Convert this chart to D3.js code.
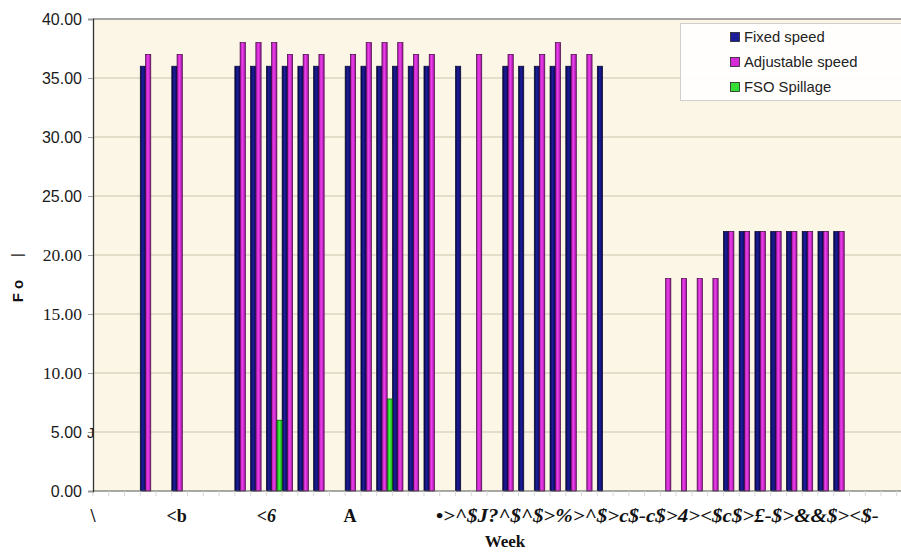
<!DOCTYPE html>
<html>
<head>
<meta charset="utf-8">
<script src="https://cdn.jsdelivr.net/npm/d3@7"></script>
<style>
  html, body { margin: 0; padding: 0; background: #fff; }
  svg { display: block; }
</style>
</head>
<body>
<div id="chart"></div>
<script>
// weeks 1..52
const weeks = [1,2,3,4,5,6,7,8,9,10,11,12,13,14,15,16,17,18,19,20,21,22,23,24,25,26,
  27,28,29,30,31,32,33,34,35,36,37,38,39,40,41,42,43,44,45,46,47,48,49,50,51,52];

const fixedSpeed = [
  null,null,null,36,null,36,null,null,null,36,
  36,36,36,36,36,null,36,36,36,36,
  36,36,null,36,null,null,36,36,36,36,
  36,null,36,null,null,null,null,null,null,null,
  22,22,22,22,22,22,22,22,null,null,
  null,null];

const adjustableSpeed = [
  null,null,null,37,null,37,null,null,null,38,
  38,38,37,37,37,null,37,38,38,38,
  37,37,null,null,37,null,37,null,37,38,
  37,37,null,null,null,null,18,18,18,18,
  22,22,22,22,22,22,22,22,null,null,
  null,null];

const fsoSpillage = [
  null,null,null,null,null,null,null,null,null,null,
  null,6,null,null,null,null,null,null,7.8,null,
  null,null,null,null,null,null,null,null,null,null,
  null,null,null,null,null,null,null,null,null,null,
  null,null,null,null,null,null,null,null,null,null,
  null,null];

const seriesNames = ["Fixed speed", "Adjustable speed", "FSO Spillage"];
const yTicks = [0, 5, 10, 15, 20, 25, 30, 35, 40];
const serifTicks = [10, 15, 20];

// garbled week labels as they appear, with position in week units
const weekLabels = [
  { text: "\\", at: 0.0, italic: false },
  { text: "<b", at: 5.3, italic: false },
  { text: "<6", at: 11.0, italic: true },
  { text: "A", at: 16.3, italic: false }
];
const longLabel = "\u2022>^$J?^$^$>%>^$>c$-c$>4><$c$>\u00a3-$>&&$><$-";
const longLabelAt = 21.75;

const width = 901, height = 552;
const margin = { top: 19, left: 93, bottom: 61 };
const plotBottom = height - margin.bottom;
const plotRight = margin.left + 52 * 15.76;

const svg = d3.select("#chart").append("svg")
  .attr("width", width)
  .attr("height", height);

const defs = svg.append("defs");
function grad(id, stops) {
  const g = defs.append("linearGradient").attr("id", id)
    .attr("x1", "0%").attr("x2", "100%").attr("y1", "0%").attr("y2", "0%");
  stops.forEach(s => g.append("stop").attr("offset", s[0]).attr("stop-color", s[1]));
}
grad("gBlue", [["0%", "#04043e"], ["45%", "#1e1e9c"], ["100%", "#08085a"]]);
grad("gMag", [["0%", "#a816a8"], ["45%", "#ec40ec"], ["100%", "#9c109c"]]);
grad("gGreen", [["0%", "#119911"], ["45%", "#44ee44"], ["100%", "#22aa22"]]);

const fills = ["url(#gBlue)", "url(#gMag)", "url(#gGreen)"];
const swatch = ["#1c1c9a", "#d62ad6", "#33dd33"];
const strokes = ["#07072a", "#420842", "#0a4a0a"];

const x = d3.scaleBand().domain(weeks).range([margin.left, plotRight]).padding(0);
const xs = d3.scaleBand().domain(seriesNames).range([0, x.bandwidth()]).padding(0);
const xw = d3.scaleLinear().domain([0, 52]).range([margin.left, plotRight]);
const y = d3.scaleLinear().domain([0, 40]).range([plotBottom, margin.top]);

// plot background
svg.append("rect")
  .attr("x", margin.left).attr("y", margin.top)
  .attr("width", plotRight - margin.left).attr("height", plotBottom - margin.top)
  .attr("fill", "#fbf6e6");

// gridlines
svg.append("g")
  .selectAll("line")
  .data(yTicks.filter(d => d > 0))
  .join("line")
  .attr("x1", margin.left).attr("x2", plotRight)
  .attr("y1", d => y(d)).attr("y2", d => y(d))
  .attr("stroke", d => d === 40 ? "#8a8a8a" : "#cbc4ae")
  .attr("stroke-width", d => d === 40 ? 1.5 : 1);

// bars
const series = [fixedSpeed, adjustableSpeed, fsoSpillage];
series.forEach((vals, si) => {
  svg.append("g")
    .selectAll("rect")
    .data(weeks.map((w, i) => ({ w, v: vals[i] })).filter(d => d.v != null))
    .join("rect")
    .attr("x", d => x(d.w) + xs(seriesNames[si]))
    .attr("y", d => y(d.v))
    .attr("width", xs.bandwidth())
    .attr("height", d => y(0) - y(d.v))
    .attr("fill", fills[si])
    .attr("stroke", strokes[si])
    .attr("stroke-width", 0.7);
});

// x axis line and faint category ticks
svg.append("line")
  .attr("x1", margin.left).attr("x2", plotRight)
  .attr("y1", plotBottom).attr("y2", plotBottom)
  .attr("stroke", "#555").attr("stroke-width", 1.2);
svg.append("g")
  .selectAll("line")
  .data(weeks)
  .join("line")
  .attr("x1", d => x(d)).attr("x2", d => x(d))
  .attr("y1", plotBottom).attr("y2", plotBottom + 5)
  .attr("stroke", "#d8d8d8");

// y axis
const yAxis = svg.append("g")
  .attr("transform", `translate(${margin.left},0)`)
  .call(d3.axisLeft(y).tickValues(yTicks).tickFormat(d3.format(".2f")).tickSize(5).tickPadding(6));
yAxis.select(".domain").attr("stroke", "#333").attr("stroke-width", 1.3);
yAxis.selectAll(".tick line").attr("stroke", "#999");
yAxis.selectAll(".tick text")
  .attr("fill", "#1a1a1a")
  .style("font-family", d => serifTicks.includes(d) ? "'Liberation Serif', 'Times New Roman', serif" : "'Liberation Sans', Arial, sans-serif")
  .style("font-size", d => serifTicks.includes(d) ? "17.5px" : "16px");

// stray mark next to 5.00
svg.append("text")
  .attr("x", margin.left - 6).attr("y", y(5) + 6)
  .style("font-family", "'Liberation Sans', Arial, sans-serif")
  .style("font-size", "15px").attr("fill", "#222")
  .text("J");

// y axis title, rotated like the reference
const titleFont = "'Liberation Sans', Arial, sans-serif";
svg.append("text")
  .attr("transform", "translate(23,291) rotate(-90)")
  .attr("text-anchor", "middle")
  .style("font-family", titleFont)
  .style("font-weight", "bold").style("font-size", "15px")
  .attr("fill", "#111")
  .text("F o");
svg.append("text")
  .attr("transform", "translate(22,255) rotate(-90)")
  .attr("text-anchor", "middle")
  .style("font-family", titleFont)
  .style("font-size", "15px")
  .attr("fill", "#222")
  .text("|");

// week labels
const serif = "'Liberation Serif', 'Times New Roman', serif";
svg.append("g")
  .selectAll("text")
  .data(weekLabels)
  .join("text")
  .attr("x", d => xw(d.at))
  .attr("y", 522)
  .attr("text-anchor", "middle")
  .style("font-family", serif)
  .style("font-weight", "bold")
  .style("font-style", d => d.italic ? "italic" : "normal")
  .style("font-size", "18px")
  .attr("fill", "#111")
  .text(d => d.text);

svg.append("text")
  .attr("x", xw(longLabelAt)).attr("y", 522)
  .attr("textLength", 443).attr("lengthAdjust", "spacingAndGlyphs")
  .style("font-family", serif)
  .style("font-weight", "bold").style("font-style", "italic")
  .style("font-size", "18px").attr("fill", "#111")
  .text(longLabel);

svg.append("text")
  .attr("x", 505).attr("y", 547)
  .attr("text-anchor", "middle")
  .style("font-family", serif)
  .style("font-weight", "bold").style("font-size", "17px")
  .attr("fill", "#111")
  .text("Week");

// legend
const lg = svg.append("g");
lg.append("rect")
  .attr("x", 680.5).attr("y", 23.5).attr("width", 240).attr("height", 77)
  .attr("fill", "#ffffff").attr("fill-opacity", 0.9)
  .attr("stroke", "#cfcfcf");
const items = lg.selectAll("g.item")
  .data(seriesNames)
  .join("g")
  .attr("class", "item")
  .attr("transform", (d, i) => `translate(730,${37 + i * 25})`);
items.append("rect")
  .attr("x", 0.5).attr("y", -4.5).attr("width", 9).attr("height", 9)
  .attr("fill", (d, i) => swatch[i])
  .attr("stroke", "#222").attr("stroke-width", 0.8);
items.append("text")
  .attr("x", 14).attr("y", 5)
  .style("font-family", "'Liberation Sans', Arial, sans-serif")
  .style("font-size", "14.8px").attr("fill", "#222")
  .text(d => d);
</script>
</body>
</html>
